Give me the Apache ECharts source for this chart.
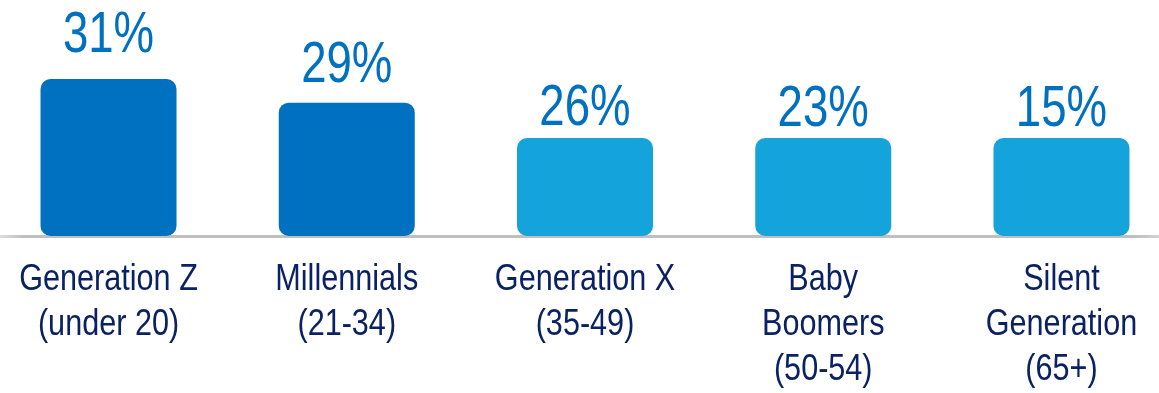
<!DOCTYPE html>
<html>
<head>
<meta charset="utf-8">
<script src="https://cdn.jsdelivr.net/npm/echarts@6/dist/echarts.min.js"></script>
<style>
  html, body { margin: 0; padding: 0; background: #ffffff; }
  #chart { width: 1159px; height: 393px; }
</style>
</head>
<body>
<div id="chart"></div>
<script>
// Share by generation
const categories = [
  'Generation Z\n(under 20)',
  'Millennials\n(21-34)',
  'Generation X\n(35-49)',
  'Baby\nBoomers\n(50-54)',
  'Silent\nGeneration\n(65+)'
];
const shares = [31, 29, 26, 23, 15];

// Styling
const FONT = "'Liberation Sans', Arial, sans-serif";
const DARK = '#0070c0';
const LIGHT = '#15a3dc';
const barColors = [DARK, DARK, LIGHT, LIGHT, LIGHT];
const labelGap = [14.5, 8, 0, -1, -1];
const VALUE_NARROW = 0.8;     // horizontal squeeze for the value labels
const CATEGORY_NARROW = 0.85; // horizontal squeeze for the category labels

const chart = echarts.init(document.getElementById('chart'), null, { renderer: 'canvas' });

chart.setOption({
  animation: false,
  backgroundColor: '#ffffff',
  grid: {
    left: -10.6, right: -21.6, top: 0, bottom: 157,
    containLabel: false,
    outerBoundsMode: 'none'
  },
  xAxis: {
    type: 'category',
    data: categories,
    axisTick: { show: false },
    axisLine: {
      show: true,
      lineStyle: {
        width: 3,
        color: new echarts.graphic.LinearGradient(0, 0, 1, 0, [
          { offset: 0, color: '#f0f0f0' },
          { offset: 0.03, color: '#bfbfbf' },
          { offset: 0.96, color: '#bfbfbf' },
          { offset: 1, color: '#e8e8e8' }
        ])
      }
    },
    axisLabel: {
      interval: 0,
      margin: 22,
      fontFamily: FONT,
      fontSize: 36,
      lineHeight: 45,
      color: '#0a2263',
      align: 'center'
    }
  },
  yAxis: {
    type: 'value',
    min: 6.7,
    max: 37.7,
    show: false,
    splitLine: { show: false },
    // the lower shares sit on a collapsed stretch of the scale
    breaks: [{ start: 15, end: 26, gap: 0.001 }],
    breakArea: { show: false }
  },
  series: [{
    type: 'bar',
    barWidth: 136,
    z: 3,
    data: shares.map((v, i) => ({
      value: v,
      itemStyle: { color: barColors[i], borderRadius: 10 },
      label: { distance: labelGap[i] }
    })),
    label: {
      show: true,
      position: 'top',
      formatter: '{c}%',
      fontFamily: FONT,
      fontSize: 57,
      color: DARK
    }
  }]
});

// Narrow the lettering horizontally, keeping each text centred on its anchor
const zr = chart.getZr();
function condense(el, factor) {
  if (el.type === 'text') {
    el.scaleX = factor;
    el.markRedraw();
  }
  const inner = el.getTextContent && el.getTextContent();
  if (inner) condense(inner, VALUE_NARROW);
  if (el.isGroup) el.eachChild(child => condense(child, factor));
}
zr.storage.getRoots().forEach(root => condense(root, CATEGORY_NARROW));
zr.refreshImmediately();
</script>
</body>
</html>
